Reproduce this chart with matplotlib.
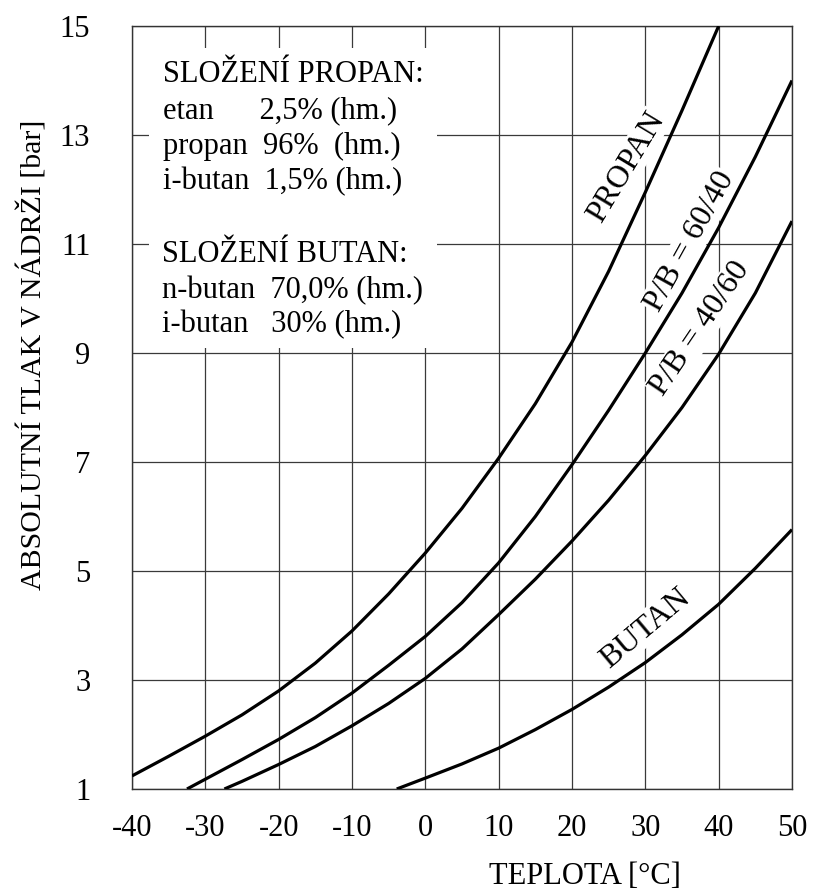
import matplotlib
matplotlib.use("Agg")
import matplotlib.pyplot as plt
from matplotlib.patches import Rectangle

plt.rcParams['font.family'] = ['Liberation Serif', 'DejaVu Serif']
plt.rcParams['axes.unicode_minus'] = False

# values (temperature in degC, absolute pressure in bar)
t_propan = [-40, -35, -30, -25, -20, -15, -10, -5, 0, 5, 10, 15, 20, 25, 30, 35, 40]
p_propan = [1.24, 1.60, 1.97, 2.36, 2.80, 3.31, 3.90, 4.58, 5.33, 6.15, 7.07, 8.07, 9.2, 10.5, 11.95, 13.45, 15.0]

t_6040 = [-32.5, -30, -25, -20, -15, -10, -5, 0, 5, 10, 15, 20, 25, 30, 35, 40, 45, 50]
p_6040 = [1.0, 1.18, 1.54, 1.91, 2.31, 2.76, 3.27, 3.80, 4.42, 5.15, 6.0, 6.95, 7.95, 9.0, 10.1, 11.3, 12.6, 14.0]

t_4060 = [-27.4, -25, -20, -15, -10, -5, 0, 5, 10, 15, 20, 25, 30, 35, 40, 45, 50]
p_4060 = [1.0, 1.14, 1.45, 1.78, 2.16, 2.57, 3.03, 3.57, 4.2, 4.85, 5.55, 6.3, 7.12, 8.0, 8.98, 10.1, 11.42]

t_butan = [-3.9, 0, 5, 10, 15, 20, 25, 30, 35, 40, 45, 50]
p_butan = [1.0, 1.20, 1.46, 1.75, 2.09, 2.46, 2.87, 3.32, 3.83, 4.39, 5.05, 5.76]

x_ticks = [-40, -30, -20, -10, 0, 10, 20, 30, 40, 50]
y_ticks = [1, 3, 5, 7, 9, 11, 13, 15]

propan_lines = ["SLOŽENÍ PROPAN:",
                "etan      2,5% (hm.)",
                "propan  96%  (hm.)",
                "i-butan  1,5% (hm.)"]
butan_lines = ["SLOŽENÍ BUTAN:",
               "n-butan  70,0% (hm.)",
               "i-butan   30% (hm.)"]

W, H = 822, 889
fig = plt.figure(figsize=(W / 100, H / 100), dpi=100)
ax = fig.add_axes([132 / W, 1 - 789 / H, 660 / W, 763 / H])

ax.set_xlim(-40, 50)
ax.set_ylim(1, 15)
ax.set_xticks(x_ticks)
ax.set_yticks(y_ticks)
ax.tick_params(length=0, labelsize=22)
ax.tick_params(axis='x', pad=18)
ax.tick_params(axis='y', pad=30)
ax.grid(True, color='#3a3a3a', lw=0.9, zorder=0)
ax.set_axisbelow(True)
for s in ax.spines.values():
    s.set_color('#333333')
    s.set_linewidth(1.0)

# white panel behind the composition notes
ax.add_patch(Rectangle((-37.7, 9.1), 39.3, 5.5, facecolor='white', edgecolor='none', zorder=1))

lw = 2.3
for t, p in [(t_propan, p_propan), (t_6040, p_6040), (t_4060, p_4060), (t_butan, p_butan)]:
    ax.plot(t, p, color='black', lw=lw, zorder=3, solid_capstyle='butt', solid_joinstyle='round')

box = dict(facecolor='white', edgecolor='none', pad=1)
ax.text(27.4, 12.4, "PROPAN", rotation=59, fontsize=23, ha='center', va='center', bbox=box, zorder=2)
ax.text(36.1, 11.05, "P/B = 60/40", rotation=61, fontsize=23, ha='center', va='center', bbox=box, zorder=2)
ax.text(37.5, 9.45, "P/B = 40/60", rotation=56, fontsize=23, ha='center', va='center', bbox=box, zorder=2)
ax.text(30.0, 3.95, "BUTAN", rotation=40, fontsize=23, ha='center', va='center', bbox=box, zorder=2)

# composition notes
ys = [75, 111, 146, 182]
for y, s in zip(ys, propan_lines):
    fig.text(163 / W, 1 - y / H, s, fontsize=22, ha='left', va='center')
ys = [255, 291, 325]
for y, s in zip(ys, butan_lines):
    fig.text(162 / W, 1 - y / H, s, fontsize=22, ha='left', va='center')

fig.text(585 / W, 1 - 876 / H, "TEPLOTA [°C]", fontsize=22, ha='center', va='center')
fig.text(33 / W, 1 - 355 / H, "ABSOLUTNÍ TLAK V NÁDRŽI [bar]", fontsize=21.5,
         rotation=90, ha='center', va='center')

fig.savefig("out.png", dpi=100)
